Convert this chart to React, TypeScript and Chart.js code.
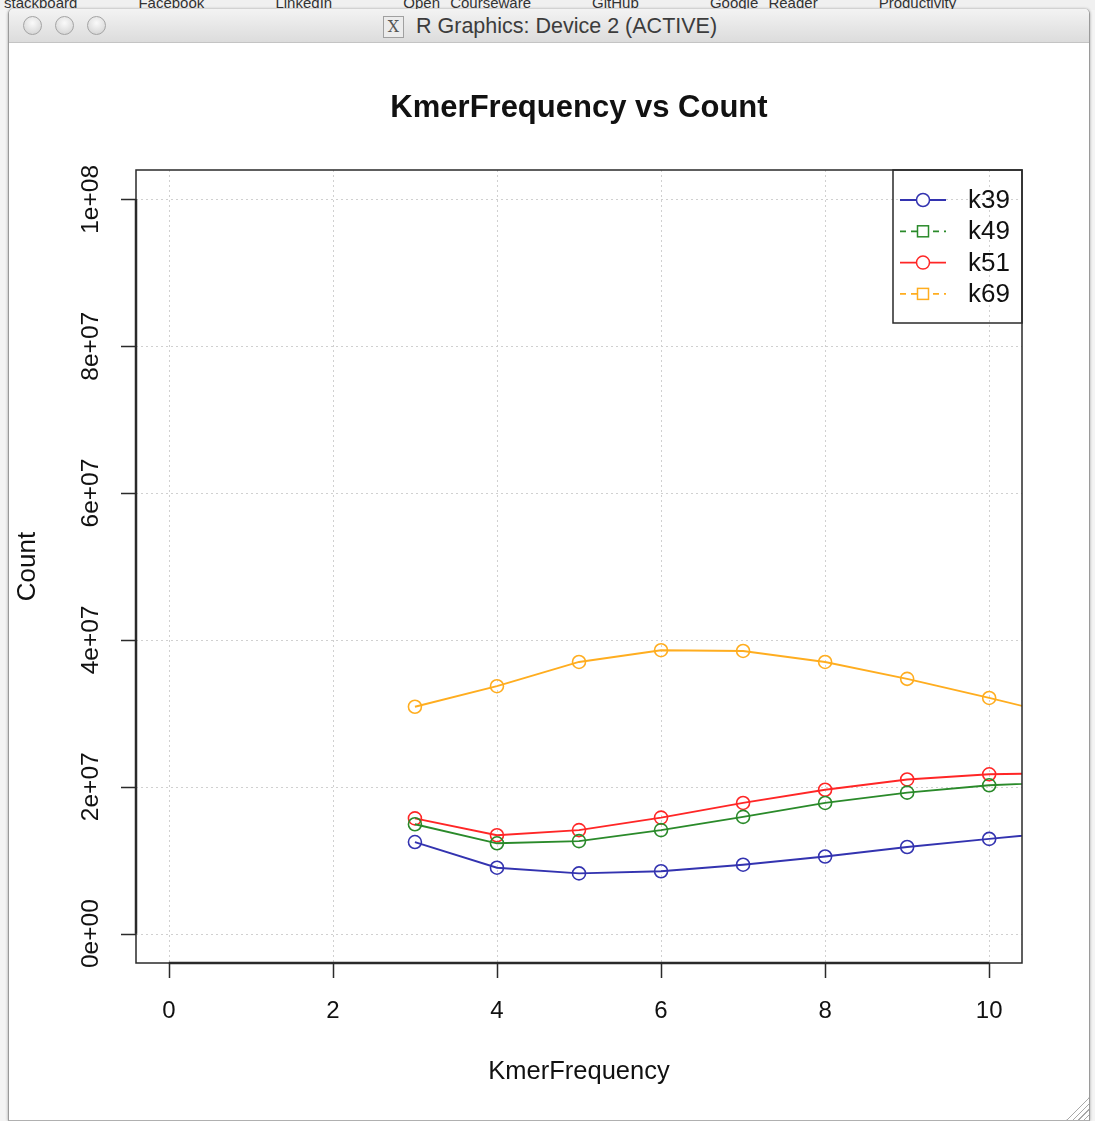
import React, { useEffect, useRef } from "react";
import { Chart, registerables } from "chart.js";

Chart.register(...registerables);

// ---- data ----
const kmerFrequency = [3, 4, 5, 6, 7, 8, 9, 10, 11];
const k39 = [1.247e7, 8.98e6, 8.2e6, 8.5e6, 9.39e6, 1.05e7, 1.18e7, 1.29e7, 1.4e7];
const k49 = [1.49e7, 1.23e7, 1.26e7, 1.41e7, 1.59e7, 1.78e7, 1.92e7, 2.02e7, 2.07e7];
const k51 = [1.57e7, 1.34e7, 1.41e7, 1.58e7, 1.78e7, 1.96e7, 2.1e7, 2.17e7, 2.19e7];
const k69 = [3.09e7, 3.37e7, 3.7e7, 3.86e7, 3.85e7, 3.7e7, 3.47e7, 3.21e7, 2.94e7];
const seriesNames = ["k39", "k49", "k51", "k69"];
const xTicks = [0, 2, 4, 6, 8, 10];
const xTickLabels = ["0", "2", "4", "6", "8", "10"];
const yTicks = [0, 2e7, 4e7, 6e7, 8e7, 1e8];
const yTickLabels = ["0e+00", "2e+07", "4e+07", "6e+07", "8e+07", "1e+08"];
const chartTitle = "KmerFrequency vs Count";
const xTitle = "KmerFrequency";
const yTitle = "Count";

const COLORS = ["#3333b0", "#2a8a2a", "#ff2626", "#ffad1f"];
const LEGEND_DASHED = [false, true, false, true];
const LEGEND_SQUARE = [false, true, false, true];
const FONT = "'Liberation Sans', Arial, Helvetica, sans-serif";

const CW = 1079;
const CH = 1076;

const rPlot = {
  id: "rplot",
  beforeDatasetsDraw(chart: any) {
    const { ctx, chartArea: a, scales } = chart;
    const x = scales.x;
    const y = scales.y;
    ctx.save();
    ctx.strokeStyle = "#d0d0d0";
    ctx.lineWidth = 1;
    ctx.setLineDash([2, 3]);
    xTicks.forEach((v) => {
      const px = Math.round(x.getPixelForValue(v)) + 0.5;
      ctx.beginPath();
      ctx.moveTo(px, a.top);
      ctx.lineTo(px, a.bottom);
      ctx.stroke();
    });
    yTicks.forEach((v) => {
      const py = Math.round(y.getPixelForValue(v)) + 0.5;
      ctx.beginPath();
      ctx.moveTo(a.left, py);
      ctx.lineTo(a.right, py);
      ctx.stroke();
    });
    ctx.restore();
  },
  afterDraw(chart: any) {
    const { ctx, chartArea: a, scales } = chart;
    const x = scales.x;
    const y = scales.y;
    ctx.save();
    ctx.setLineDash([]);
    // plot box
    ctx.strokeStyle = "#2a2a2a";
    ctx.lineWidth = 1.5;
    ctx.strokeRect(a.left, a.top, a.right - a.left, a.bottom - a.top);
    // axis lines (R draws from first to last tick)
    ctx.lineWidth = 2.5;
    ctx.beginPath();
    ctx.moveTo(x.getPixelForValue(xTicks[0]), a.bottom);
    ctx.lineTo(x.getPixelForValue(xTicks[xTicks.length - 1]), a.bottom);
    ctx.moveTo(a.left, y.getPixelForValue(yTicks[0]));
    ctx.lineTo(a.left, y.getPixelForValue(yTicks[yTicks.length - 1]));
    ctx.stroke();
    // tick marks
    ctx.lineWidth = 1.5;
    ctx.beginPath();
    xTicks.forEach((v) => {
      const px = Math.round(x.getPixelForValue(v)) + 0.5;
      ctx.moveTo(px, a.bottom);
      ctx.lineTo(px, a.bottom + 15);
    });
    yTicks.forEach((v) => {
      const py = Math.round(y.getPixelForValue(v)) + 0.5;
      ctx.moveTo(a.left - 15, py);
      ctx.lineTo(a.left, py);
    });
    ctx.stroke();

    ctx.fillStyle = "#111";
    // x tick labels
    ctx.font = `24px ${FONT}`;
    ctx.textAlign = "center";
    ctx.textBaseline = "middle";
    xTicks.forEach((v, i) => {
      ctx.fillText(xTickLabels[i], x.getPixelForValue(v), a.bottom + 48);
    });
    // y tick labels, rotated
    ctx.font = `24.5px ${FONT}`;
    yTicks.forEach((v, i) => {
      ctx.save();
      ctx.translate(a.left - 45, y.getPixelForValue(v));
      ctx.rotate(-Math.PI / 2);
      ctx.fillText(yTickLabels[i], 0, 0);
      ctx.restore();
    });
    // axis titles
    const cx = (a.left + a.right) / 2;
    const cy = (a.top + a.bottom) / 2;
    ctx.font = `25.5px ${FONT}`;
    ctx.fillText(xTitle, cx, a.bottom + 109);
    ctx.save();
    ctx.font = `26px ${FONT}`;
    ctx.translate(a.left - 108, cy);
    ctx.rotate(-Math.PI / 2);
    ctx.fillText(yTitle, 0, 0);
    ctx.restore();
    // main title
    ctx.font = `bold 31px ${FONT}`;
    ctx.fillText(chartTitle, cx, a.top - 62);

    // legend (top right, no fill, R style)
    const lw = 129;
    const lh = 153;
    const lx = a.right - lw;
    const ly = a.top;
    ctx.strokeStyle = "#2a2a2a";
    ctx.lineWidth = 1.5;
    ctx.strokeRect(lx, ly, lw, lh);
    ctx.font = `26px ${FONT}`;
    ctx.textAlign = "left";
    seriesNames.forEach((name, i) => {
      const ey = ly + 30 + i * 31.3;
      const col = COLORS[i];
      ctx.strokeStyle = col;
      ctx.lineWidth = 1.8;
      ctx.setLineDash(LEGEND_DASHED[i] ? [6, 5] : []);
      ctx.beginPath();
      ctx.moveTo(lx + 7, ey);
      ctx.lineTo(lx + 53, ey);
      ctx.stroke();
      ctx.setLineDash([]);
      const mx = lx + 30;
      ctx.lineWidth = 1.5;
      if (LEGEND_SQUARE[i]) {
        ctx.fillStyle = "#fff";
        ctx.fillRect(mx - 5.5, ey - 5.5, 11, 11);
        ctx.strokeRect(mx - 5.5, ey - 5.5, 11, 11);
      } else {
        ctx.fillStyle = "#fff";
        ctx.beginPath();
        ctx.arc(mx, ey, 6.5, 0, Math.PI * 2);
        ctx.fill();
        ctx.stroke();
      }
      ctx.fillStyle = "#111";
      ctx.fillText(name, lx + 75, ey + 1);
    });
    ctx.restore();
  },
};

export default function App() {
  const ref = useRef<HTMLCanvasElement>(null);

  useEffect(() => {
    const canvas = ref.current!;
    const series = [k39, k49, k51, k69];
    const chart = new Chart(canvas, {
      type: "line",
      data: {
        datasets: series.map((vals, i) => ({
          label: seriesNames[i],
          data: kmerFrequency.map((xv, j) => ({ x: xv, y: vals[j] })),
          borderColor: COLORS[i],
          backgroundColor: "transparent",
          borderWidth: 1.9,
          pointRadius: 6.5,
          pointHoverRadius: 6.5,
          pointBorderWidth: 1.6,
          pointBorderColor: COLORS[i],
          pointBackgroundColor: "transparent",
          pointStyle: "circle",
          tension: 0,
          fill: false,
        })),
      },
      options: {
        responsive: false,
        maintainAspectRatio: false,
        animation: false,
        devicePixelRatio: 1,
        layout: { padding: { top: 126, right: 66, left: 0, bottom: 0 } },
        plugins: {
          legend: { display: false },
          tooltip: { enabled: false },
          title: { display: false },
        },
        scales: {
          x: {
            type: "linear",
            min: -0.4,
            max: 10.4,
            ticks: { display: false },
            grid: { display: false, drawTicks: false },
            border: { display: false },
            afterBuildTicks: (s: any) => {
              s.ticks = xTicks.map((v) => ({ value: v }));
            },
            afterFit: (s: any) => {
              s.height = 157;
            },
          },
          y: {
            type: "linear",
            min: -4e6,
            max: 1.04e8,
            ticks: { display: false },
            grid: { display: false, drawTicks: false },
            border: { display: false },
            afterBuildTicks: (s: any) => {
              s.ticks = yTicks.map((v) => ({ value: v }));
            },
            afterFit: (s: any) => {
              s.width = 127;
            },
          },
        },
      } as any,
      plugins: [rPlot],
    });
    return () => chart.destroy();
  }, []);

  const circle = (left: number) => (
    <div
      style={{
        position: "absolute",
        left,
        top: 7,
        width: 17,
        height: 17,
        borderRadius: "50%",
        border: "1px solid #a4a4a4",
        background: "radial-gradient(circle at 50% 35%, #fafafa 0%, #e0e0e0 60%, #cbcbcb 100%)",
      }}
    />
  );

  return (
    <div
      style={{
        position: "fixed",
        left: 0,
        top: 0,
        width: 1095,
        height: 1121,
        overflow: "hidden",
        background: "#f4f4f4",
        fontFamily: FONT,
      }}
    >
      {/* strip of browser bookmarks behind the window */}
      <div
        style={{
          position: "absolute",
          left: 0,
          top: 0,
          width: 1095,
          height: 10,
          overflow: "hidden",
          background: "#f0f0f0",
        }}
      >
        <div
          style={{
            position: "absolute",
            top: -6,
            left: 4,
            whiteSpace: "nowrap",
            fontSize: 15,
            color: "#333",
            wordSpacing: 6,
          }}
        >
          stackboard &nbsp;&nbsp;&nbsp;&nbsp; Facebook &nbsp;&nbsp;&nbsp;&nbsp;&nbsp; LinkedIn &nbsp;&nbsp;&nbsp;&nbsp;&nbsp; Open Courseware &nbsp;&nbsp;&nbsp;&nbsp; GitHub &nbsp;&nbsp;&nbsp;&nbsp;&nbsp; Google Reader &nbsp;&nbsp;&nbsp;&nbsp; Productivity
        </div>
      </div>
      {/* the R graphics window */}
      <div
        style={{
          position: "absolute",
          left: 8,
          top: 9,
          width: 1080,
          height: 1111,
          background: "#fff",
          borderLeft: "1px solid #9a9a9a",
          borderRight: "1px solid #9a9a9a",
          borderBottom: "1px solid #b0b0b0",
          borderTopLeftRadius: 5,
          borderTopRightRadius: 5,
          boxShadow: "0 0 3px rgba(0,0,0,0.35)",
          overflow: "hidden",
        }}
      >
        <div
          style={{
            position: "absolute",
            left: 0,
            top: 0,
            width: 1080,
            height: 34,
            background: "linear-gradient(#f3f3f3, #dcdcdc)",
            borderBottom: "1px solid #c4c4c4",
            boxSizing: "border-box",
          }}
        >
          {circle(14)}
          {circle(46)}
          {circle(78)}
          <div
            style={{
              position: "absolute",
              left: 374,
              top: 7,
              width: 19,
              height: 20,
              border: "1px solid #a0a0a0",
              background: "#ececec",
              fontFamily: "'DejaVu Serif', serif",
              fontSize: 16,
              lineHeight: "20px",
              textAlign: "center",
              color: "#555",
            }}
          >
            X
          </div>
          <div
            style={{
              position: "absolute",
              left: 407,
              top: 4,
              fontSize: 21.5,
              lineHeight: "26px",
              color: "#3c3c3c",
              whiteSpace: "nowrap",
            }}
          >
            R Graphics: Device 2 (ACTIVE)
          </div>
        </div>
        <canvas
          ref={ref}
          width={CW}
          height={CH}
          style={{ position: "absolute", left: 0, top: 35, width: CW, height: CH }}
        />
        <div
          style={{
            position: "absolute",
            right: 0,
            bottom: 0,
            width: 22,
            height: 22,
            borderLeft: "1px solid #d0d0d0",
            borderTop: "1px solid #d0d0d0",
            background:
              "repeating-linear-gradient(-45deg, transparent 0px, transparent 3px, #a8a8a8 3px, #a8a8a8 4px)",
            clipPath: "polygon(100% 0, 100% 100%, 0 100%)",
          }}
        />
      </div>
    </div>
  );
}
